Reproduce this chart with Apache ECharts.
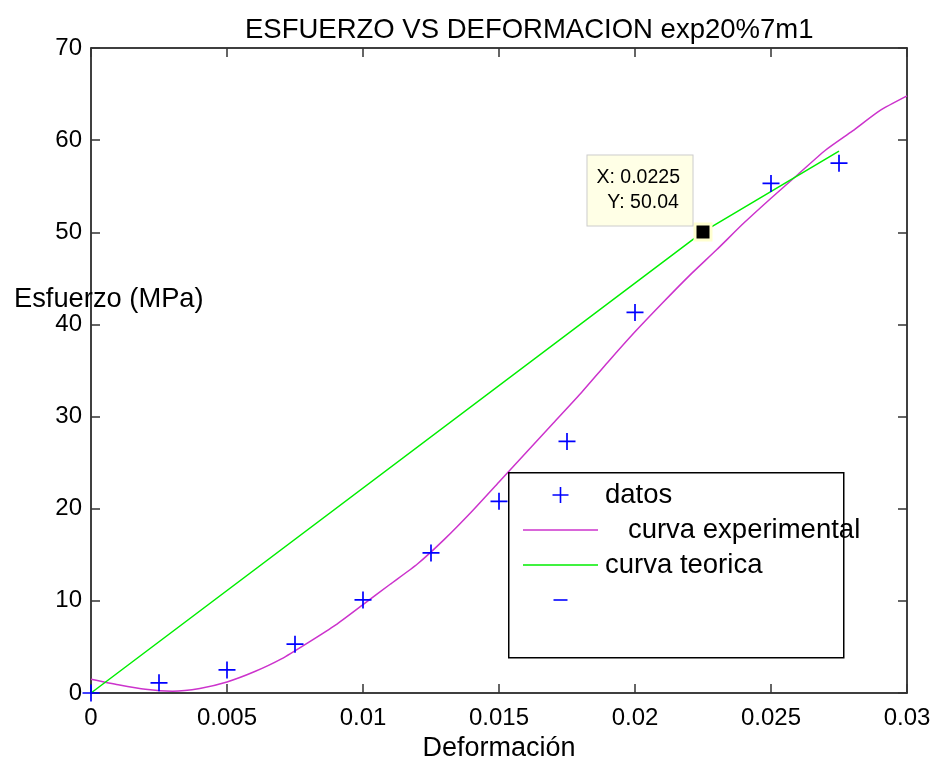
<!DOCTYPE html>
<html>
<head>
<meta charset="utf-8">
<script src="https://cdn.jsdelivr.net/npm/echarts@6/dist/echarts.min.js"></script>
<style>
  html, body { margin: 0; padding: 0; background: #fff; }
  #chart { width: 942px; height: 761px; }
</style>
</head>
<body>
<div id="chart"></div>
<script>
  // puntos medidos (datos)
  let deformDatos = [0, 0.0025, 0.005, 0.0075, 0.01, 0.0125, 0.015, 0.0175, 0.02, 0.0225, 0.025, 0.0275]
  let esfuerzoDatos = [0, 1.1, 2.5, 5.3, 10.1, 15.2, 20.8, 27.3, 41.3, 50.04, 55.3, 57.5]

  // curva experimental
  let deformExp = [0, 0.001, 0.002, 0.003, 0.004, 0.005, 0.006, 0.007, 0.008, 0.009, 0.01,
    0.011, 0.012, 0.013, 0.014, 0.015, 0.016, 0.017, 0.018, 0.019, 0.02,
    0.021, 0.022, 0.023, 0.024, 0.025, 0.026, 0.027, 0.028, 0.029, 0.03]
  let esfuerzoExp = [1.5, 0.9, 0.4, 0.2, 0.5, 1.2, 2.3, 3.7, 5.5, 7.4, 9.6,
    11.8, 14.0, 16.7, 19.7, 22.9, 26.1, 29.3, 32.5, 35.9, 39.2,
    42.3, 45.3, 48.1, 51.0, 53.7, 56.3, 58.9, 61.0, 63.2, 64.8]

  // curva teorica
  let deformTeo = [0, 0.0225, 0.0275]
  let esfuerzoTeo = [0, 50.04, 58.8]

  // data tip
  let tipX = 0.0225
  let tipY = 50.04

  let xTicks = [0, 0.005, 0.01, 0.015, 0.02, 0.025, 0.03]
  let yTicks = [0, 10, 20, 30, 40, 50, 60, 70]

  const FONT = 'Liberation Sans'
  const plusPath = 'path://M9,0h2v9h9v2h-9v9h-2v-9h-9v-2h9z'
  const dashPath = 'path://M0,0M16,16M1,7.2h14v1.6h-14z'
  const linePath = 'path://M0,0M75,16M0,7.25h75v1.5h-75z'

  function pairs(xs, ys) {
    return xs.map((x, i) => [x, ys[i]])
  }

  let chart = echarts.init(document.getElementById('chart'))

  function axisBase() {
    return {
      type: 'value',
      axisLine: {show: true, onZero: false, lineStyle: {color: '#000', width: 1.5}},
      axisTick: {show: true, inside: true, length: 9, lineStyle: {color: '#333', width: 1.5}},
      splitLine: {show: false}
    }
  }

  chart.setOption({
    animation: false,
    title: [
      {
        text: 'ESFUERZO VS DEFORMACION exp20%7m1',
        left: 240, top: 11,
        textStyle: {fontFamily: FONT, fontSize: 27.5, fontWeight: 'normal', color: '#000'}
      },
      {
        text: 'Esfuerzo (MPa)',
        left: 9, top: 281,
        textStyle: {fontFamily: FONT, fontSize: 27.3, fontWeight: 'normal', color: '#000'}
      }
    ],
    grid: {left: 91, right: 35, top: 48, bottom: 68, containLabel: false, outerBoundsMode: 'none'},
    xAxis: [
      Object.assign(axisBase(), {
        position: 'bottom',
        min: 0, max: 0.03, interval: 0.005,
        name: 'Deformación',
        nameLocation: 'middle',
        nameGap: 42,
        nameTextStyle: {fontFamily: FONT, fontSize: 27, color: '#000'},
        axisLabel: {
          fontFamily: FONT, fontSize: 24, color: '#000', margin: 13,
          formatter: v => String(xTicks.find(t => Math.abs(t - v) < 1e-9) ?? v)
        }
      }),
      Object.assign(axisBase(), {
        position: 'top',
        min: 0, max: 0.03, interval: 0.005,
        axisLabel: {show: false}
      })
    ],
    yAxis: [
      Object.assign(axisBase(), {
        position: 'left',
        min: 0, max: 70, interval: 10,
        axisLabel: {fontFamily: FONT, fontSize: 24, color: '#000', margin: 9}
      }),
      Object.assign(axisBase(), {
        position: 'right',
        min: 0, max: 70, interval: 10,
        axisLabel: {show: false}
      })
    ],
    legend: {
      orient: 'vertical',
      left: 518, top: 476,
      itemWidth: 75,
      itemHeight: 16,
      itemGap: 7,
      symbolKeepAspect: true,
      selectedMode: false,
      backgroundColor: 'transparent',
      textStyle: {fontFamily: FONT, fontSize: 27.5, color: '#000', padding: [0, 0, 0, 2]},
      formatter: name => name === 'curva experimental' ? '   ' + name : name,
      data: [
        {name: 'datos', icon: plusPath},
        {name: 'curva experimental', icon: linePath},
        {name: 'curva teorica', icon: linePath},
        {name: ' ', icon: dashPath}
      ],
      z: 10
    },
    graphic: [
      {
        type: 'rect',
        left: 508, top: 472,
        shape: {width: 335, height: 185},
        style: {fill: '#fff', stroke: '#000', lineWidth: 1.5},
        z: 5
      }
    ],
    series: [
      {
        name: 'datos',
        type: 'scatter',
        data: pairs(deformDatos, esfuerzoDatos),
        symbol: plusPath,
        symbolSize: 17,
        itemStyle: {color: '#0000ff', opacity: 1},
        z: 3
      },
      {
        name: 'curva experimental',
        type: 'line',
        data: pairs(deformExp, esfuerzoExp),
        symbol: 'none',
        smooth: 0.2,
        lineStyle: {color: '#cc33cc', width: 1.5},
        itemStyle: {color: '#cc33cc'},
        z: 2
      },
      {
        name: 'curva teorica',
        type: 'line',
        data: pairs(deformTeo, esfuerzoTeo),
        symbol: 'none',
        lineStyle: {color: '#00ee00', width: 1.5},
        itemStyle: {color: '#00ee00'},
        z: 2
      },
      {
        name: ' ',
        type: 'scatter',
        data: [],
        symbol: dashPath,
        itemStyle: {color: '#0000ff', opacity: 1}
      },
      {
        name: 'tip',
        type: 'scatter',
        data: [[tipX, tipY]],
        symbol: 'rect',
        symbolSize: 16,
        itemStyle: {color: '#000', borderColor: '#ffffd0', borderWidth: 3, opacity: 1},
        label: {
          show: true,
          position: [-106, -67],
          align: 'left',
          verticalAlign: 'top',
          formatter: 'X: ' + tipX + '\n  Y: ' + tipY,
          fontFamily: FONT,
          fontSize: 19.5,
          lineHeight: 25,
          color: '#000',
          backgroundColor: '#ffffe6',
          borderColor: '#cccccc',
          borderWidth: 1,
          padding: [10, 8, 10, 9],
          width: 88
        },
        z: 8
      }
    ]
  })
</script>
</body>
</html>
